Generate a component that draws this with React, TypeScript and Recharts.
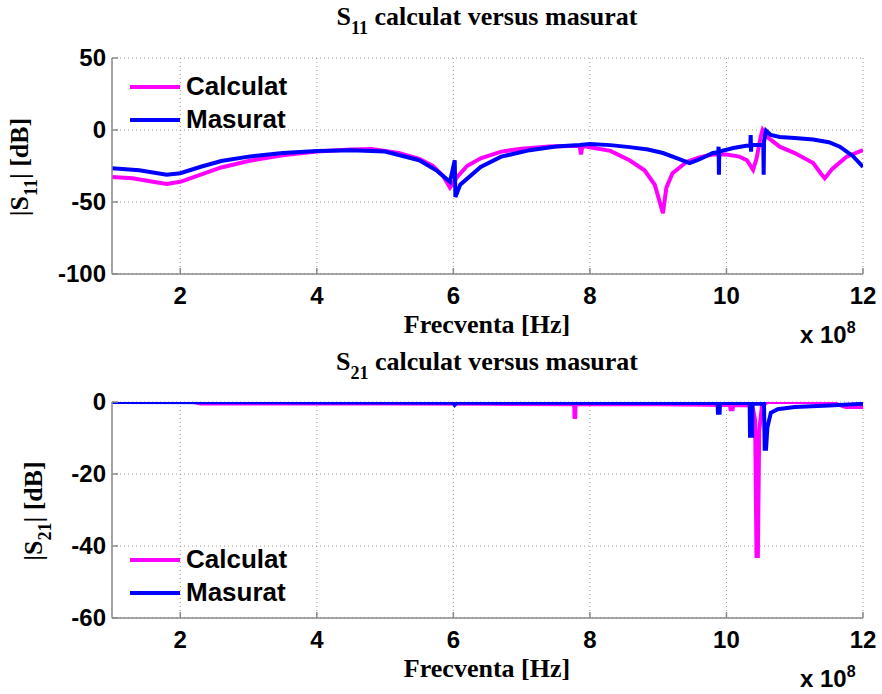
import React from "react";
import {
    LineChart,
    Line,
    XAxis,
    YAxis,
    CartesianGrid,
    Legend,
} from "recharts";

// frequency in units of 1e8 Hz, magnitude in dB
const s11CalcF = [1.0, 1.3, 1.6, 1.8, 2.0, 2.3, 2.6, 3.0, 3.5, 4.0, 4.5, 4.8, 5.2, 5.5, 5.7, 5.85, 5.95, 6.05, 6.2, 6.4, 6.7, 7.0, 7.4, 7.85, 7.87, 7.89, 8.0, 8.3, 8.58, 8.8, 8.95, 9.07, 9.12, 9.21, 9.42, 9.6, 9.8, 10.0, 10.19, 10.3, 10.39, 10.44, 10.5, 10.53, 10.6, 10.78, 11.0, 11.27, 11.38, 11.44, 11.55, 11.76, 12.0];
const s11CalcDb = [-32.6, -33.5, -36, -37.5, -36, -31, -26, -21.5, -17.5, -15, -13.5, -13.2, -16, -20, -25, -32, -40, -33, -25, -19.6, -15, -13, -11.5, -11, -17, -11, -12, -14.5, -21, -28, -38, -57.8, -40, -30, -22, -19, -17, -17, -18.5, -21, -27.7, -20, -5, 0, -5, -11.6, -16, -23, -30, -33.6, -27, -18.5, -14];

const s11MeasF = [1.0, 1.4, 1.8, 2.0, 2.3, 2.6, 3.0, 3.5, 4.0, 4.5, 5.0, 5.5, 5.75, 5.95, 6.02, 6.03, 6.1, 6.4, 6.7, 7.12, 7.5, 7.85, 8.0, 8.3, 8.58, 8.85, 9.07, 9.3, 9.46, 9.6, 9.8, 9.88, 9.885, 9.89, 9.895, 10.1, 10.29, 10.35, 10.355, 10.36, 10.365, 10.5, 10.54, 10.545, 10.55, 10.58, 10.65, 10.78, 11.0, 11.27, 11.5, 11.66, 11.85, 12.0];
const s11MeasDb = [-26.5, -28, -31, -30, -25.5, -21.5, -18.5, -16, -14.6, -14, -15, -21, -28, -36, -21, -46.5, -38, -25.7, -18.5, -14, -11.5, -10.4, -9.7, -10.5, -11.9, -13.5, -16, -20, -23, -20.5, -16, -15.5, -11.6, -31, -15, -12.5, -11, -11, -3.5, -15, -10.5, -10.5, -10.5, -31, -8, -0.5, -3.5, -4.9, -5.6, -6.6, -8.5, -11.6, -18, -25.7];

const s21CalcF = [1.0, 2.2, 2.3, 5.0, 6.5, 7.77, 7.775, 7.785, 7.79, 9.0, 10.05, 10.06, 10.09, 10.1, 10.38, 10.42, 10.44, 10.46, 10.48, 10.52, 10.6, 11.3, 11.6, 11.75, 12.0];
const s21CalcDb = [0, 0, -0.4, -0.4, -0.5, -0.6, -4.2, -4.2, -0.6, -0.6, -0.8, -2, -2, -0.8, -1, -5, -42.8, -42.8, -8, -1, 0, 0, -0.5, -1.4, -1.4];

const s21MeasF = [1.0, 6.0, 6.02, 6.05, 9.87, 9.875, 9.9, 9.905, 10.34, 10.345, 10.375, 10.38, 10.55, 10.56, 10.58, 10.6, 10.65, 10.75, 11.0, 11.5, 12.0];
const s21MeasDb = [0, -0.2, -0.8, -0.2, -0.3, -3, -3, -0.3, -0.3, -9.4, -9.4, -0.5, -0.5, -13, -13, -7, -3, -2, -1.4, -1, -0.5];

const freqTicks = [2, 4, 6, 8, 10, 12];
const s11Ticks = [-100, -50, 0, 50];
const s21Ticks = [-60, -40, -20, 0];
const seriesNames = ["Calculat", "Masurat"];
const seriesColors = ["#ff00ff", "#0000ff"];

const toPoints = (f: number[], db: number[]) => f.map((v, i) => ({ f: v, db: db[i] }));

const FRAME = "#8a8a8a";
const sans = "'Liberation Sans', Arial, sans-serif";
const serif = "'Liberation Serif', 'Times New Roman', serif";

const XTick = ({ x, y, payload }: any) => (
    <text x={x} y={y + 30} textAnchor="middle" fontFamily={sans} fontWeight="bold" fontSize={24} fill="#000">
        {payload.value}
    </text>
);

const YTick = ({ x, y, payload }: any) => (
    <text x={x} y={y + 8} textAnchor="end" fontFamily={sans} fontWeight="bold" fontSize={24} fill="#000">
        {payload.value}
    </text>
);

const LegendBox = () => (
    <div style={{ fontFamily: sans, fontWeight: "bold", fontSize: 26, color: "#000" }}>
        {seriesNames.map((n, i) => (
            <div key={n} style={{ display: "flex", alignItems: "center", height: 33 }}>
                <div style={{ width: 50, height: 4, background: seriesColors[i], marginRight: 6 }} />
                <span>{n}</span>
            </div>
        ))}
    </div>
);

function SPlot({ calc, meas, ticks, top, legendTop }: any) {
    const dom = [ticks[0], ticks[ticks.length - 1]];
    return (
        <div style={{ position: "absolute", left: 0, top }}>
            <LineChart width={882} height={310} margin={{ top: 58, right: 19, bottom: 0, left: 0 }}>
                <CartesianGrid stroke="#999" strokeDasharray="1 3" />
                <XAxis
                    dataKey="f"
                    type="number"
                    domain={[1, 12]}
                    ticks={freqTicks}
                    height={36}
                    stroke={FRAME}
                    strokeWidth={1.5}
                    tickSize={-6}
                    tickMargin={6}
                    tick={<XTick />}
                    allowDataOverflow
                />
                <XAxis
                    xAxisId="top"
                    orientation="top"
                    dataKey="f"
                    type="number"
                    domain={[1, 12]}
                    ticks={freqTicks}
                    height={0}
                    stroke={FRAME}
                    strokeWidth={1.5}
                    tickSize={-6}
                    tick={false}
                    allowDataOverflow
                />
                <YAxis
                    dataKey="db"
                    type="number"
                    domain={dom}
                    ticks={ticks}
                    width={112}
                    stroke={FRAME}
                    strokeWidth={1.5}
                    tickSize={-6}
                    tickMargin={12}
                    tick={<YTick />}
                    allowDataOverflow
                />
                <YAxis
                    yAxisId="right"
                    orientation="right"
                    type="number"
                    domain={dom}
                    ticks={ticks}
                    width={0}
                    stroke={FRAME}
                    strokeWidth={1.5}
                    tickSize={-6}
                    tick={false}
                    allowDataOverflow
                />
                <Legend
                    layout="horizontal"
                    verticalAlign="middle"
                    align="center"
                    content={<LegendBox />}
                    wrapperStyle={{ position: "absolute", left: 130, top: legendTop, width: "auto" }}
                />
                <Line
                    data={calc}
                    dataKey="db"
                    name={seriesNames[0]}
                    stroke={seriesColors[0]}
                    strokeWidth={4}
                    dot={false}
                    type="linear"
                    isAnimationActive={false}
                />
                <Line
                    data={meas}
                    dataKey="db"
                    name={seriesNames[1]}
                    stroke={seriesColors[1]}
                    strokeWidth={4}
                    dot={false}
                    type="linear"
                    isAnimationActive={false}
                />
            </LineChart>
        </div>
    );
}

const abs = (left: number, top: number, extra: any = {}) => ({
    position: "absolute" as const,
    left,
    top,
    whiteSpace: "nowrap" as const,
    color: "#000",
    ...extra,
});

export default function App() {
    const titleStyle = { fontFamily: serif, fontWeight: "bold", fontSize: 26, lineHeight: "26px" };
    const subStyle = { fontSize: 18, verticalAlign: -9 };
    const expStyle = { fontFamily: sans, fontWeight: "bold", fontSize: 24, lineHeight: "24px" };
    return (
        <div style={{ position: "absolute", left: 0, top: 0, width: 882, height: 694, background: "#fff", overflow: "hidden" }}>
            <SPlot calc={toPoints(s11CalcF, s11CalcDb)} meas={toPoints(s11MeasF, s11MeasDb)} ticks={s11Ticks} top={0} legendTop={70} />
            <SPlot calc={toPoints(s21CalcF, s21CalcDb)} meas={toPoints(s21MeasF, s21MeasDb)} ticks={s21Ticks} top={344} legendTop={199} />

            <div style={abs(487, 4, { ...titleStyle, transform: "translateX(-50%)" })}>
                S<span style={subStyle}>11</span> calculat versus masurat
            </div>
            <div style={abs(487, 312, { ...titleStyle, transform: "translateX(-50%)" })}>Frecventa [Hz]</div>
            <div style={abs(800, 316, expStyle)}>
                x 10<span style={{ fontSize: 16, verticalAlign: 10 }}>8</span>
            </div>
            <div style={abs(25, 167, { ...titleStyle, transform: "translate(-50%, -50%) rotate(-90deg)" })}>
                |S<span style={subStyle}>11</span>| [dB]
            </div>

            <div style={abs(487, 349, { ...titleStyle, transform: "translateX(-50%)" })}>
                S<span style={subStyle}>21</span> calculat versus masurat
            </div>
            <div style={abs(487, 656, { ...titleStyle, transform: "translateX(-50%)" })}>Frecventa [Hz]</div>
            <div style={abs(800, 660, expStyle)}>
                x 10<span style={{ fontSize: 16, verticalAlign: 10 }}>8</span>
            </div>
            <div style={abs(39, 511, { ...titleStyle, transform: "translate(-50%, -50%) rotate(-90deg)" })}>
                |S<span style={subStyle}>21</span>| [dB]
            </div>
        </div>
    );
}
